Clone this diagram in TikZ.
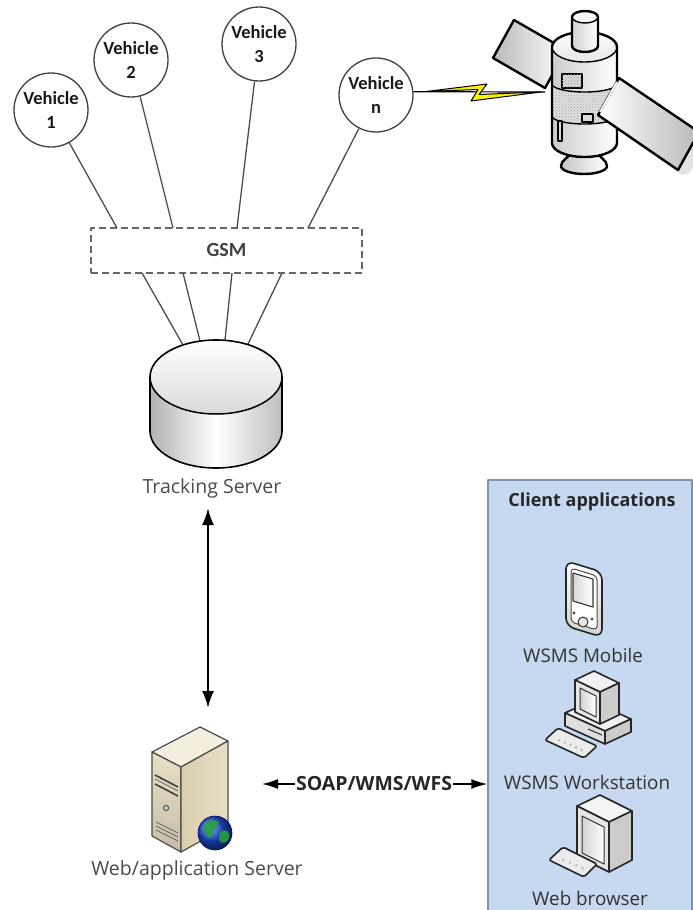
\documentclass[tikz,border=0pt]{standalone}
\usepackage{fontspec}
\setmainfont{Open Sans}
\newfontfamily\calib{Carlito}
\usetikzlibrary{arrows.meta,calc,patterns}

\definecolor{clientfill}{HTML}{C6D9F0}
\definecolor{clientline}{HTML}{7F93AE}
\definecolor{boltyellow}{HTML}{FFF200}
\definecolor{beige}{HTML}{E9DFC6}
\definecolor{beigeside}{HTML}{D6C8A6}
\definecolor{beigetop}{HTML}{F4EEDF}
\definecolor{txtgray}{HTML}{4A4A4A}
\definecolor{globeblue}{HTML}{1E50D8}
\definecolor{globegreen}{HTML}{2EB84A}

\begin{document}
\begin{tikzpicture}[x=1pt,y=-1pt,line join=round,
  veh/.style={circle,draw=black!75,line width=1.3pt,fill=white,minimum size=74pt,inner sep=0pt,align=center,
    font=\calib\bfseries\fontsize{18.5}{24}\selectfont,text=black!90},
  link/.style={draw=black!70,line width=1.3pt},
  gsmbox/.style={draw=black!60,line width=1.2pt,dash pattern=on 7pt off 4pt,minimum width=271pt,minimum height=45pt,
    inner sep=0pt,font=\calib\bfseries\fontsize{20}{22}\selectfont,text=black!75},
  lbl/.style={font=\fontsize{19.5}{22}\selectfont,text=txtgray,inner sep=1pt},
  clbl/.style={font=\fontsize{18.8}{22}\selectfont,text=black!80,inner sep=1pt},
  dbl/.style={line width=2.2pt,{Latex[length=17pt,width=12pt]}-{Latex[length=17pt,width=12pt]}},
  sarr/.style={line width=1.6pt,-{Latex[length=16pt,width=10pt]}},
  ol/.style={draw=black,line width=2.4pt},
  icon/.style={draw=black!85,line width=1.6pt},
]
\useasboundingbox (0,0) rectangle (693,910);

% ---------- client applications panel ----------
\node[draw=clientline,line width=1.3pt,fill=clientfill,minimum width=204pt,minimum height=440pt,inner sep=0pt]
  (client) at (590,700) {};
\node[font=\bfseries\fontsize{18}{20}\selectfont,text=black!85] (clienttitle) at (592,502) {Client applications};

% ---------- vehicles ----------
\node[veh] (v1) at (51,110) {Vehicle\\1};
\node[veh] (v2) at (131,60) {Vehicle\\2};
\node[veh] (v3) at (259,44) {Vehicle\\3};
\node[veh] (vn) at (376,95) {Vehicle\\n};

% ---------- GSM ----------
\node[gsmbox] (gsm) at (226.5,250.5) {GSM};
\coordinate (g1) at (117,228);
\coordinate (g2) at (173,228);
\coordinate (g3) at (237,228);
\coordinate (g4) at (308,228);
\coordinate (h1) at (142,273);
\coordinate (h2) at (183,273);
\coordinate (h3) at (232,273);
\coordinate (h4) at (282,273);

\draw[link] (v1) -- (g1);
\draw[link] (v2) -- (g2);
\draw[link] (v3) -- (g3);
\draw[link] (vn) -- (g4);

% ---------- tracking server (database cylinder) ----------
\coordinate (c1) at (183,345);
\coordinate (c2) at (200,341);
\coordinate (c3) at (225,340);
\coordinate (c4) at (248,344);
\draw[link] (h1) -- (c1);
\draw[link] (h2) -- (c2);
\draw[link] (h3) -- (c3);
\draw[link] (h4) -- (c4);

\path[left color=gray!60,right color=gray!50,middle color=white]
  (150,377) -- (150,431) arc[start angle=180,end angle=0,x radius=66,y radius=37]
  -- (282,377) arc[start angle=0,end angle=180,x radius=66,y radius=37] -- cycle;
\path[top color=white,bottom color=gray!30] (216,377) ellipse[x radius=66,y radius=37];
\draw[line width=1.5pt] (150,377) arc[start angle=180,end angle=0,x radius=66,y radius=37];
\draw[line width=1.6pt] (150,377) -- (150,431) arc[start angle=180,end angle=0,x radius=66,y radius=37]
  -- (282,377) arc[start angle=0,end angle=-180,x radius=66,y radius=37] -- cycle;
\node[lbl] (ts) at (212,488) {Tracking Server};

% ---------- web / application server ----------
\node[minimum width=80pt,minimum height=130pt,inner sep=0pt] (srv) at (190,790) {};
\draw[draw=black!70,line width=1.2pt,fill=beigetop] (152,752) -- (200,727) -- (228,741) -- (181,767) -- cycle;
\draw[draw=black!70,line width=1.2pt,top color=beige,bottom color=beige!85!black] (152,752) -- (181,767) -- (181,852) -- (152,836) -- cycle;
\draw[draw=black!70,line width=1.2pt,left color=beigeside!90!white,right color=beige] (181,767) -- (228,741) -- (228,826) -- (181,852) -- cycle;
\draw[black!75,line width=1.6pt] (155,775) -- (178,787);
\draw[black!75,line width=1.6pt] (155,784) -- (178,796);
\draw[black!60,line width=0.8pt] (155,779) -- (178,791);
\draw[black!70,line width=0.9pt,fill=gray!40] (166,808) circle[radius=2.6];
\foreach \k in {0,4,8}
  \draw[black!60,line width=0.8pt] (156,822+\k) -- (178,833+\k);
\shade[ball color=globeblue] (215,833) circle[radius=17];
\fill[globegreen!85!black,opacity=0.9] (204,826) .. controls (208,818) and (216,819) .. (219,823)
  .. controls (215,828) and (213,833) .. (210,838) .. controls (206,836) and (203,831) .. (204,826) -- cycle;
\fill[globegreen!85!black,opacity=0.9] (220,832) .. controls (226,828) and (231,832) .. (229,838)
  .. controls (227,843) and (222,845) .. (219,840) -- cycle;
\draw[blue!40!black,line width=0.6pt] (215,833) circle[radius=17];
\node[lbl] (wsl) at (197,870) {Web/application Server};

% tracking server <-> web server
\coordinate (tsdown) at (208,508);
\coordinate (srvup) at (208,708);
\draw[dbl] (tsdown) -- (srvup);

% ---------- SOAP link ----------
\node[font=\bfseries\fontsize{19.5}{22}\selectfont,text=black!85,inner sep=0.5pt] (soap) at (374,784) {SOAP/WMS/WFS};
\coordinate (soapl) at (262,784);
\draw[sarr] (soap) -- (soapl);
\draw[sarr] (soap) -- (client.west |- soap);

% ---------- client devices ----------
% mobile
\draw[icon,rounded corners=8pt,top color=white,bottom color=gray!35] (566,561) -- (602,572) -- (602,637) -- (566,626) -- cycle;
\draw[black!70,line width=1pt,rounded corners=4pt,fill=white] (571,568) -- (597,576) -- (597,630) -- (571,622) -- cycle;
\draw[black!80,line width=1.1pt,left color=gray!30,right color=white] (573,573) -- (593,579) -- (593,607) -- (573,601) -- cycle;
\draw[black!80,line width=1pt,fill=gray!20] (583,622) circle[radius=5];
\fill[black!70] (574,613) circle[radius=1.6] (592,619) circle[radius=1.6];
\node[clbl] (mob) at (583,655) {WSMS Mobile};

% workstation
\draw[icon,fill=gray!12] (565,713) -- (591,701) -- (631,719) -- (605,731) -- cycle;
\draw[icon,fill=gray!25] (565,713) -- (605,731) -- (605,744) -- (565,726) -- cycle;
\draw[icon,fill=gray!40] (605,731) -- (631,719) -- (631,732) -- (605,744) -- cycle;
\draw[black!80,line width=1.1pt] (588,729) -- (602,735);
\draw[icon,fill=gray!10] (575,680) -- (594,671) -- (619,683) -- (600,692) -- cycle;
\draw[icon,fill=gray!20] (575,680) -- (600,692) -- (600,724) -- (575,712) -- cycle;
\draw[icon,fill=gray!40] (600,692) -- (619,683) -- (619,715) -- (600,724) -- cycle;
\draw[black!80,line width=1pt,left color=gray!35,right color=white] (580,688) -- (596,696) -- (596,717) -- (580,709) -- cycle;
\draw[icon,rounded corners=2pt,fill=gray!15] (545,740) -- (558,728) -- (597,746) -- (584,758) -- cycle;
\foreach \t in {0.2,0.35,0.5,0.65,0.8}
  \fill[gray!60] ($(552,737)!\t!(589,753)$) circle[radius=1.3];
\node[clbl] (ws) at (587,782) {WSMS Workstation};

% web browser
\draw[icon,fill=gray!8] (577,806) -- (600,795) -- (632,811) -- (609,822) -- cycle;
\draw[icon,fill=gray!20] (577,806) -- (609,822) -- (609,872) -- (577,856) -- cycle;
\draw[icon,fill=gray!40] (609,822) -- (632,811) -- (632,860) -- (609,872) -- cycle;
\draw[black!80,line width=1pt,left color=gray!35,right color=white] (582,816) -- (604,827) -- (604,864) -- (582,853) -- cycle;
\draw[icon,rounded corners=2pt,fill=gray!15] (549,860) -- (563,847) -- (597,864) -- (584,877) -- cycle;
\foreach \t in {0.2,0.4,0.6,0.8}
  \fill[gray!60] ($(557,857)!\t!(589,871)$) circle[radius=1.3];
\node[clbl] (wb) at (590,898) {Web browser};

% ---------- satellite ----------
\coordinate (satlink) at (545,92);
\draw[black,line width=1.2pt] (vn.5) -- (satlink);
\fill[gray!22,rounded corners=8pt] (628,86) -- (607,123) -- (687,178) -- (708,140) -- cycle;
\draw[ol,left color=gray!55,right color=white] (514,20) -- (493,58) -- (545,88) -- (566,50) -- cycle;
\draw[black,line width=1pt,fill=boltyellow] (426,91.5) -- (487,84) -- (479,94.5) -- (541,92) -- (471,101) -- (478,89.5) -- cycle;
% base
\draw[ol,left color=gray!45,right color=white] (571,146) -- (571,152) .. controls (569,158) and (561,160) .. (561,166)
  arc[start angle=180,end angle=0,x radius=23,y radius=8] .. controls (607,160) and (599,158) .. (598,152) -- (598,146);
% body
\path[left color=gray!40,right color=white] (552,47) -- (552,143) arc[start angle=180,end angle=0,x radius=32.5,y radius=14]
  -- (617,47) arc[start angle=0,end angle=-180,x radius=32.5,y radius=15] -- cycle;
\path[top color=white,bottom color=gray!20] (584.5,47) ellipse[x radius=32.5,y radius=15];
\fill[gray!25] (552,84) arc[start angle=180,end angle=0,x radius=32.5,y radius=8] -- (617,116)
  arc[start angle=0,end angle=180,x radius=32.5,y radius=8] -- cycle;
\fill[pattern=crosshatch dots,pattern color=gray!70] (552,84) arc[start angle=180,end angle=0,x radius=32.5,y radius=8] -- (617,116)
  arc[start angle=0,end angle=180,x radius=32.5,y radius=8] -- cycle;
\draw[line width=1.4pt] (552,47) arc[start angle=180,end angle=0,x radius=32.5,y radius=15];
\draw[line width=1.4pt] (552,84) arc[start angle=180,end angle=0,x radius=32.5,y radius=8];
\draw[line width=1.4pt] (552,116) arc[start angle=180,end angle=0,x radius=32.5,y radius=8];
\draw[line width=1.1pt,fill=gray!30] (562,74) rectangle (582,88);
\fill[pattern=crosshatch dots,pattern color=gray!75] (562,74) rectangle (582,88);
\draw[line width=1.1pt,fill=gray!30] (582,114) rectangle (593,122);
\draw[line width=1.1pt,fill=gray!30] (558,121) rectangle (562,141);
\draw[ol] (552,47) -- (552,143) arc[start angle=180,end angle=0,x radius=32.5,y radius=14]
  -- (617,47) arc[start angle=0,end angle=-180,x radius=32.5,y radius=15] -- cycle;
% antenna
\path[left color=gray!35,right color=white] (572,17) -- (572,46) arc[start angle=180,end angle=0,x radius=13,y radius=6]
  -- (598,17) arc[start angle=0,end angle=-180,x radius=13,y radius=6] -- cycle;
\path[fill=gray!8] (585,17) ellipse[x radius=13,y radius=6];
\draw[line width=1.4pt] (572,17) arc[start angle=180,end angle=0,x radius=13,y radius=6];
\draw[ol] (572,17) -- (572,46) arc[start angle=180,end angle=0,x radius=13,y radius=6]
  -- (598,17) arc[start angle=0,end angle=-180,x radius=13,y radius=6] -- cycle;
% right solar panel
\draw[ol,left color=white,right color=gray!55] (619,78) -- (598,115) -- (678,170) -- (699,132) -- cycle;
\draw[white,line width=2pt] (617,82) -- (600,112);
\end{tikzpicture}
\end{document}
